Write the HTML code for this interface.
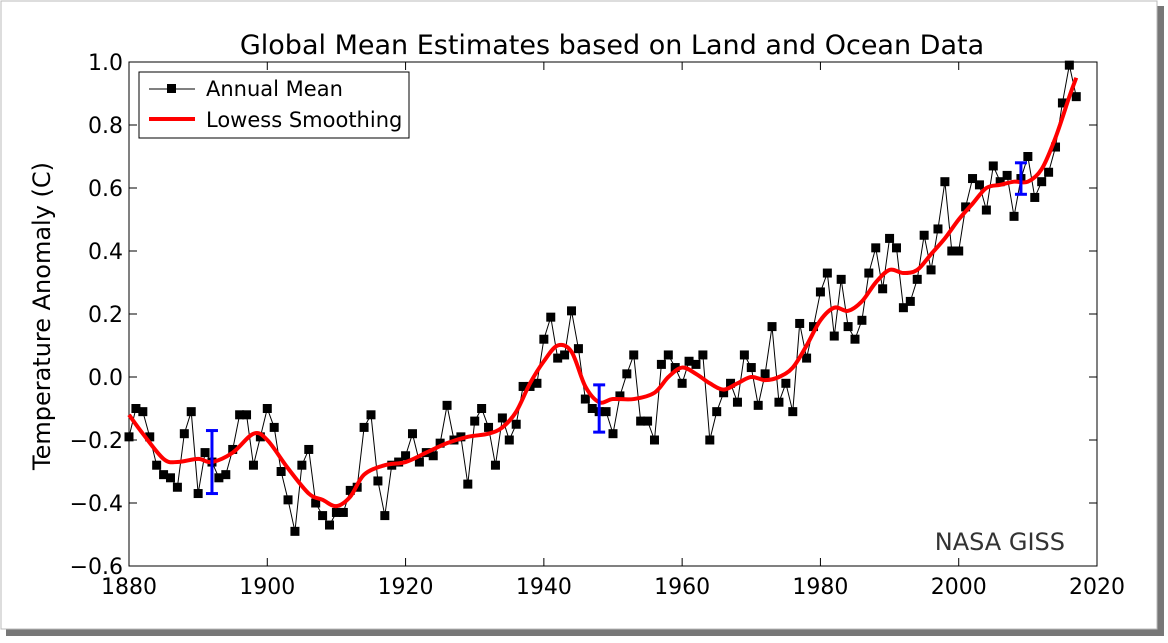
<!DOCTYPE html>
<html><head><meta charset="utf-8">
<style>
body{margin:0;background:#fff;font-family:"Liberation Sans","DejaVu Sans",sans-serif;}
svg text{font-family:"DejaVu Sans","Liberation Sans",sans-serif;}
</style></head>
<body>
<svg id="chart" width="1168" height="638" xmlns="http://www.w3.org/2000/svg">
<rect x="6" y="6" width="1158" height="630" fill="#777"/>
<rect x="1" y="1" width="1156" height="628" fill="#fff" stroke="#bbb"/>
<text x="612" y="54" font-size="27" text-anchor="middle">Global Mean Estimates based on Land and Ocean Data</text>
<text transform="translate(50,316) rotate(-90)" font-size="24" text-anchor="middle">Temperature Anomaly (C)</text>
<g id="axes"></g>
<g id="marks"></g>
<text x="1065" y="550" font-size="24" fill="#333" text-anchor="end">NASA GISS</text>
<g>
<rect x="139" y="72" width="270" height="66" fill="#fff" stroke="#000"/>
<line x1="149" y1="89" x2="195" y2="89" stroke="#000" stroke-width="1"/>
<rect x="167" y="84" width="9" height="9" fill="#000"/>
<text x="206" y="96" font-size="21">Annual Mean</text>
<line x1="149" y1="119" x2="195" y2="119" stroke="#f00" stroke-width="4"/>
<text x="206" y="127" font-size="21">Lowess Smoothing</text>
</g>
</svg>
<script>
const years=[];for(let y=1880;y<=2017;y++)years.push(y);
const annual=[-0.19,-0.10,-0.11,-0.19,-0.28,-0.31,-0.32,-0.35,-0.18,-0.11,-0.37,-0.24,-0.27,-0.32,-0.31,-0.23,-0.12,-0.12,-0.28,-0.19,
-0.10,-0.16,-0.30,-0.39,-0.49,-0.28,-0.23,-0.40,-0.44,-0.47,-0.43,-0.43,-0.36,-0.35,-0.16,-0.12,-0.33,-0.44,-0.28,-0.27,
-0.25,-0.18,-0.27,-0.24,-0.25,-0.21,-0.09,-0.20,-0.19,-0.34,-0.14,-0.10,-0.16,-0.28,-0.13,-0.20,-0.15,-0.03,-0.03,-0.02,
0.12,0.19,0.06,0.07,0.21,0.09,-0.07,-0.10,-0.11,-0.11,-0.18,-0.06,0.01,0.07,-0.14,-0.14,-0.20,0.04,0.07,0.03,
-0.02,0.05,0.04,0.07,-0.20,-0.11,-0.05,-0.02,-0.08,0.07,0.03,-0.09,0.01,0.16,-0.08,-0.02,-0.11,0.17,0.06,0.16,
0.27,0.33,0.13,0.31,0.16,0.12,0.18,0.33,0.41,0.28,0.44,0.41,0.22,0.24,0.31,0.45,0.34,0.47,0.62,0.40,
0.40,0.54,0.63,0.61,0.53,0.67,0.62,0.64,0.51,0.63,0.70,0.57,0.62,0.65,0.73,0.87,0.99,0.89];
const smoothYears=[1880,1882,1885,1887,1890,1892,1895,1898,1900,1903,1906,1908,1910,1912,1914,1917,1920,1923,1926,1929,1932,1934,1936,1938,1940,1942,1944,1946,1948,1950,1953,1956,1958,1960,1962,1964,1966,1968,1970,1972,1974,1976,1978,1980,1982,1984,1986,1988,1990,1992,1994,1996,1998,2000,2002,2004,2006,2008,2010,2012,2014,2016,2017];
const smoothVals=[-0.12,-0.18,-0.26,-0.27,-0.26,-0.27,-0.24,-0.18,-0.20,-0.29,-0.37,-0.39,-0.41,-0.38,-0.31,-0.28,-0.27,-0.24,-0.21,-0.19,-0.18,-0.16,-0.11,-0.02,0.05,0.10,0.08,-0.03,-0.08,-0.07,-0.07,-0.05,0.00,0.03,0.01,-0.02,-0.04,-0.02,0.00,-0.01,0.00,0.03,0.10,0.18,0.22,0.21,0.24,0.30,0.34,0.33,0.34,0.39,0.44,0.50,0.55,0.60,0.61,0.62,0.62,0.66,0.76,0.89,0.95];
const errYears=[1892,1948,2009];
const errLow=[-0.37,-0.175,0.58];
const errHigh=[-0.17,-0.025,0.68];
const xTicks=[1880,1900,1920,1940,1960,1980,2000,2020];
const yTicks=[-0.6,-0.4,-0.2,0.0,0.2,0.4,0.6,0.8,1.0];
const yLabels=["\u22120.6","\u22120.4","\u22120.2","0.0","0.2","0.4","0.6","0.8","1.0"];
const X0=129,X1=1097,Y0=62,Y1=566;
const xs=v=>X0+(v-1880)/140*(X1-X0);
const ys=v=>Y0+(1.0-v)/1.6*(Y1-Y0);
const NS="http://www.w3.org/2000/svg";
function mk(tag,attrs,parent){const e=document.createElementNS(NS,tag);for(const k in attrs)e.setAttribute(k,attrs[k]);parent.appendChild(e);return e;}
const axes=document.getElementById('axes'),marks=document.getElementById('marks');
const frame=mk('rect',{x:X0,y:Y0,width:X1-X0,height:Y1-Y0,fill:'none',stroke:'#000','stroke-width':1},axes);


xTicks.forEach(t=>{const x=xs(t);
mk('line',{x1:x,y1:Y1,x2:x,y2:Y1-8,stroke:'#000'},axes);mk('line',{x1:x,y1:Y0,x2:x,y2:Y0+8,stroke:'#000'},axes);
const tx=mk('text',{x:x,y:Y1+28,'font-size':22,'text-anchor':'middle'},axes);tx.textContent=t;

});
yTicks.forEach((t,i)=>{const y=ys(t);
mk('line',{x1:X0,y1:y,x2:X0+8,y2:y,stroke:'#000'},axes);mk('line',{x1:X1,y1:y,x2:X1-8,y2:y,stroke:'#000'},axes);
const tx=mk('text',{x:X0-6,y:y+8,'font-size':22,'text-anchor':'end'},axes);tx.textContent=yLabels[i];

});
const line=mk('polyline',{points:years.map((y,i)=>xs(y)+','+ys(annual[i])).join(' '),fill:'none',stroke:'#000','stroke-width':1},marks);


years.forEach((y,i)=>{const r=mk('rect',{x:xs(y)-4.5,y:ys(annual[i])-4.5,width:9,height:9,fill:'#000'},marks);

});
// smooth Catmull-Rom path
const P=smoothYears.map((y,i)=>[xs(y),ys(smoothVals[i])]);
let d='M'+P[0][0]+','+P[0][1];
for(let i=0;i<P.length-1;i++){const p0=P[Math.max(0,i-1)],p1=P[i],p2=P[i+1],p3=P[Math.min(P.length-1,i+2)];
const c1=[p1[0]+(p2[0]-p0[0])/6,p1[1]+(p2[1]-p0[1])/6],c2=[p2[0]-(p3[0]-p1[0])/6,p2[1]-(p3[1]-p1[1])/6];
d+=' C'+c1[0]+','+c1[1]+' '+c2[0]+','+c2[1]+' '+p2[0]+','+p2[1];}
const sm=mk('path',{d:d,fill:'none',stroke:'#f00','stroke-width':4,'stroke-linejoin':'round'},marks);


errYears.forEach((y,i)=>{const g=mk('g',{stroke:'#00f','stroke-width':3},marks);


const x=xs(y),a=ys(errLow[i]),b=ys(errHigh[i]);
mk('line',{x1:x,y1:a,x2:x,y2:b},g);mk('line',{x1:x-6,y1:a,x2:x+6,y2:a},g);mk('line',{x1:x-6,y1:b,x2:x+6,y2:b},g);});
</script>
</body></html>
